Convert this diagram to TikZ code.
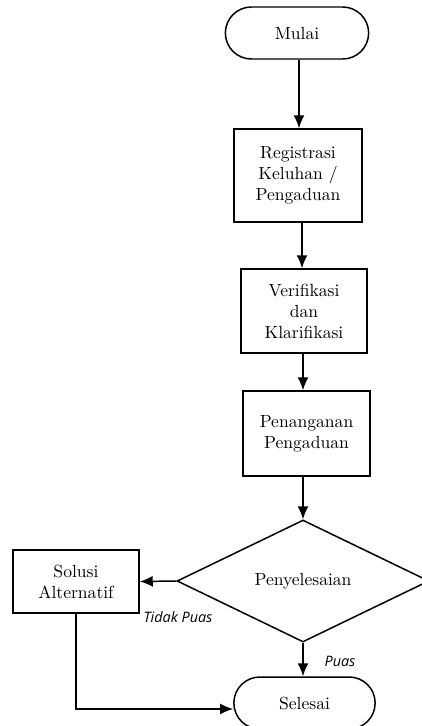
\documentclass[tikz,border=0pt]{standalone}
\usepackage{fontspec}
\usetikzlibrary{shapes.geometric,shapes.misc,arrows.meta}
\newfontfamily\labelfont{Open Sans}

\tikzset{
  terminal/.style={draw,line width=0.85pt,rounded rectangle,minimum width=3.1cm,minimum height=1.04cm},
  proses/.style={draw,line width=0.85pt,align=center,inner sep=0pt},
  putusan/.style={draw,line width=0.85pt,diamond,inner sep=0pt,minimum width=5.04cm,minimum height=2.44cm},
  panah/.style={line width=0.85pt,-{Latex[length=2.6mm,width=2.2mm]}},
  ket/.style={font=\labelfont\itshape\fontsize{8.2}{10}\selectfont}
}

\begin{document}
\begin{tikzpicture}
				  \useasboundingbox (0,0) rectangle (8.42,-14.52);
				  %BLOK
				  \node[terminal] (mulai) at (5.94,-0.66) {Mulai};
				  \node[proses,minimum width=2.56cm,minimum height=1.86cm] (reg) at (5.96,-3.51) {Registrasi\\Keluhan /\\Pengaduan};
				  \node[proses,minimum width=2.52cm,minimum height=1.68cm] (ver) at (6.08,-6.22) {Verifikasi\\dan\\Klarifikasi};
				  \node[proses,minimum width=2.54cm,minimum height=1.70cm] (pen) at (6.13,-8.67) {Penanganan\\Pengaduan};
				  \node[putusan] (sel) at (6.06,-11.62) {Penyelesaian};
				  \node[proses,minimum width=2.52cm,minimum height=1.26cm] (sol) at (1.52,-11.63) {Solusi\\Alternatif};
				  \node[terminal,minimum width=3.06cm] (selesai) at (6.09,-14.06) {Selesai};

				  %PANAH
				  \draw[panah] (mulai.south -| 5.98,0) -- (reg.north -| 5.98,0);
				  \draw[panah] (reg.south -| 6.04,0) -- (ver.north -| 6.04,0);
				  \draw[panah] (ver.south -| 6.06,0) -- (pen.north -| 6.06,0);
				  \draw[panah] (pen.south -| sel.north) -- (sel.north);
				  \draw[panah] (sel.west) -- (sol.east);
				  \draw[panah] (sel.south) -- (sel.south |- selesai.north);
				  \draw[panah] (sol.south) |- ([yshift=-0.12cm]selesai.west);

				  %KETERANGAN
				  \node[ket] (tidak) at (3.56,-12.34) {Tidak Puas};
				  \node[ket] (puas) at (6.8,-13.22) {Puas};
\end{tikzpicture}
\end{document}
